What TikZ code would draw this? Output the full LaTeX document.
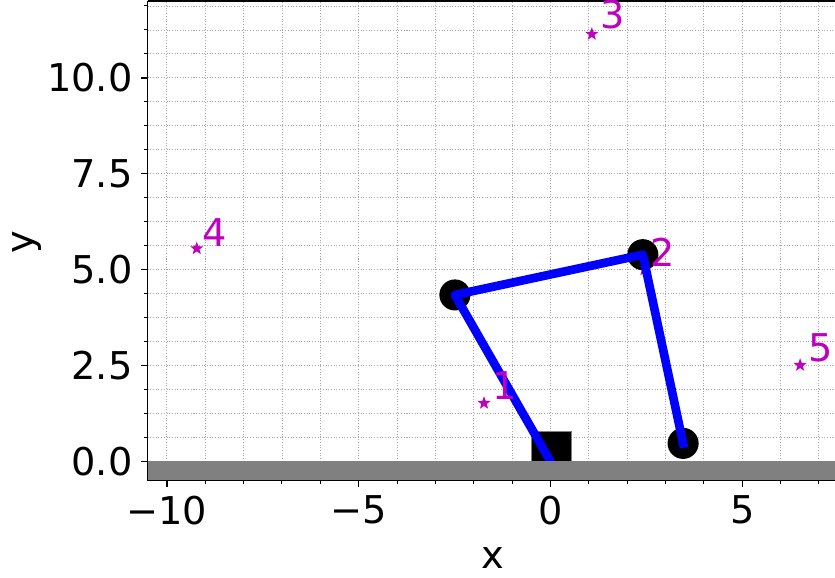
\documentclass[tikz,border=0pt]{standalone}
\usepackage{fontspec}
\setmainfont{DejaVu Sans}
\usetikzlibrary{shapes.geometric}
\definecolor{mplm}{rgb}{0.75,0,0.75}
\definecolor{gridc}{rgb}{0.66,0.66,0.66}
\definecolor{linkblue}{rgb}{0,0,1}
\definecolor{groundc}{rgb}{0.5,0.5,0.5}
\begin{document}
\begin{tikzpicture}[x=1cm,y=1cm,
  gridline/.style={gridc, line width=0.6pt, dash pattern=on 0.75pt off 1.25pt},
  spine/.style={black, line width=1.1pt},
  majtick/.style={black, line width=1pt},
  mintick/.style={black, line width=0.7pt},
  bigfont/.style={font=\fontsize{28.4}{34}\selectfont},
  ticklbl/.style={bigfont, inner sep=0pt},
  target/.style={star, star points=5, star point ratio=2.4, fill=mplm, inner sep=0pt, minimum size=0.36cm},
  tlabel/.style={bigfont, text=mplm, inner sep=0pt},
  joint/.style={circle, fill=black, minimum size=0.81cm, inner sep=0pt},
  link/.style={linkblue, line width=6.4pt, line cap=rect, line join=round},
  basebox/.style={rectangle, fill=black, draw=groundc, line width=0.4pt, minimum width=1.04cm, minimum height=0.77cm, inner sep=0pt, anchor=south},
]
\useasboundingbox (-14.35,-3.014) rectangle (7.42,12.03);
% grid
\foreach \x in {-10,...,7} \draw[gridline] (\x,-0.5) -- (\x,12);
\foreach \i in {0,...,19} \draw[gridline] (-10.5,\i*0.625) -- (7.5,\i*0.625);
% targets
\node[target] (t1) at (-1.73,1.52) {};
\node[target] (t2) at (2.45,5.0) {};
\node[target] (t3) at (1.08,11.14) {};
\node[target] (t4) at (-9.22,5.55) {};
\node[target] (t5) at (6.51,2.51) {};
% base
\node[basebox] (base) at (0.02,0) {};
\coordinate (j0) at (0,0);
% joints
\node[joint] (j1) at (-2.49,4.34) {};
\node[joint] (j2) at (2.41,5.39) {};
\node[joint] (j3) at (3.46,0.47) {};
% links
\draw[link] (j0) -- (j1.center) -- (j2.center) -- (j3.center);
% ground
\fill[groundc] (-10.5,-0.5) rectangle (7.5,0);
% spines
\draw[spine] (-10.5,12) -- (-10.5,-0.5) -- (7.5,-0.5);
\draw[spine] (-10.5,12) -- (7.5,12);
% x ticks
\foreach \x in {-10,...,7} \draw[mintick] (\x,-0.5) -- (\x,-0.6);
\foreach \x in {-10,-5,0,5} \draw[majtick] (\x,-0.5) -- (\x,-0.68);
\node[ticklbl, anchor=north] (xl1) at (-10,-0.895) {−10};
\node[ticklbl, anchor=north] (xl2) at (-5,-0.895) {−5};
\node[ticklbl, anchor=north] (xl3) at (0,-0.895) {0};
\node[ticklbl, anchor=north] (xl4) at (5,-0.895) {5};
% y ticks
\foreach \i in {0,...,19} \draw[mintick] (-10.5,\i*0.625) -- (-10.6,\i*0.625);
\foreach \y in {0,2.5,5,7.5,10} \draw[majtick] (-10.5,\y) -- (-10.68,\y);
\node[ticklbl, anchor=east] (yl1) at (-10.89,0) {0.0};
\node[ticklbl, anchor=east] (yl2) at (-10.89,2.5) {2.5};
\node[ticklbl, anchor=east] (yl3) at (-10.89,5) {5.0};
\node[ticklbl, anchor=east] (yl4) at (-10.89,7.5) {7.5};
\node[ticklbl, anchor=east] (yl5) at (-10.89,10) {10.0};
% axis labels
\node[ticklbl] (xlab) at (-1.51,-2.53) {x};
\node[ticklbl, rotate=90] (ylab) at (-13.65,5.71) {y};
% target labels
\node[tlabel] (l1) at (-1.19,1.99) {1};
\node[tlabel] (l2) at (2.92,5.46) {2};
\node[tlabel] (l3) at (1.62,11.64) {3};
\node[tlabel] (l4) at (-8.74,5.97) {4};
\node[tlabel] (l5) at (7.04,2.97) {5};
\end{tikzpicture}
\end{document}
